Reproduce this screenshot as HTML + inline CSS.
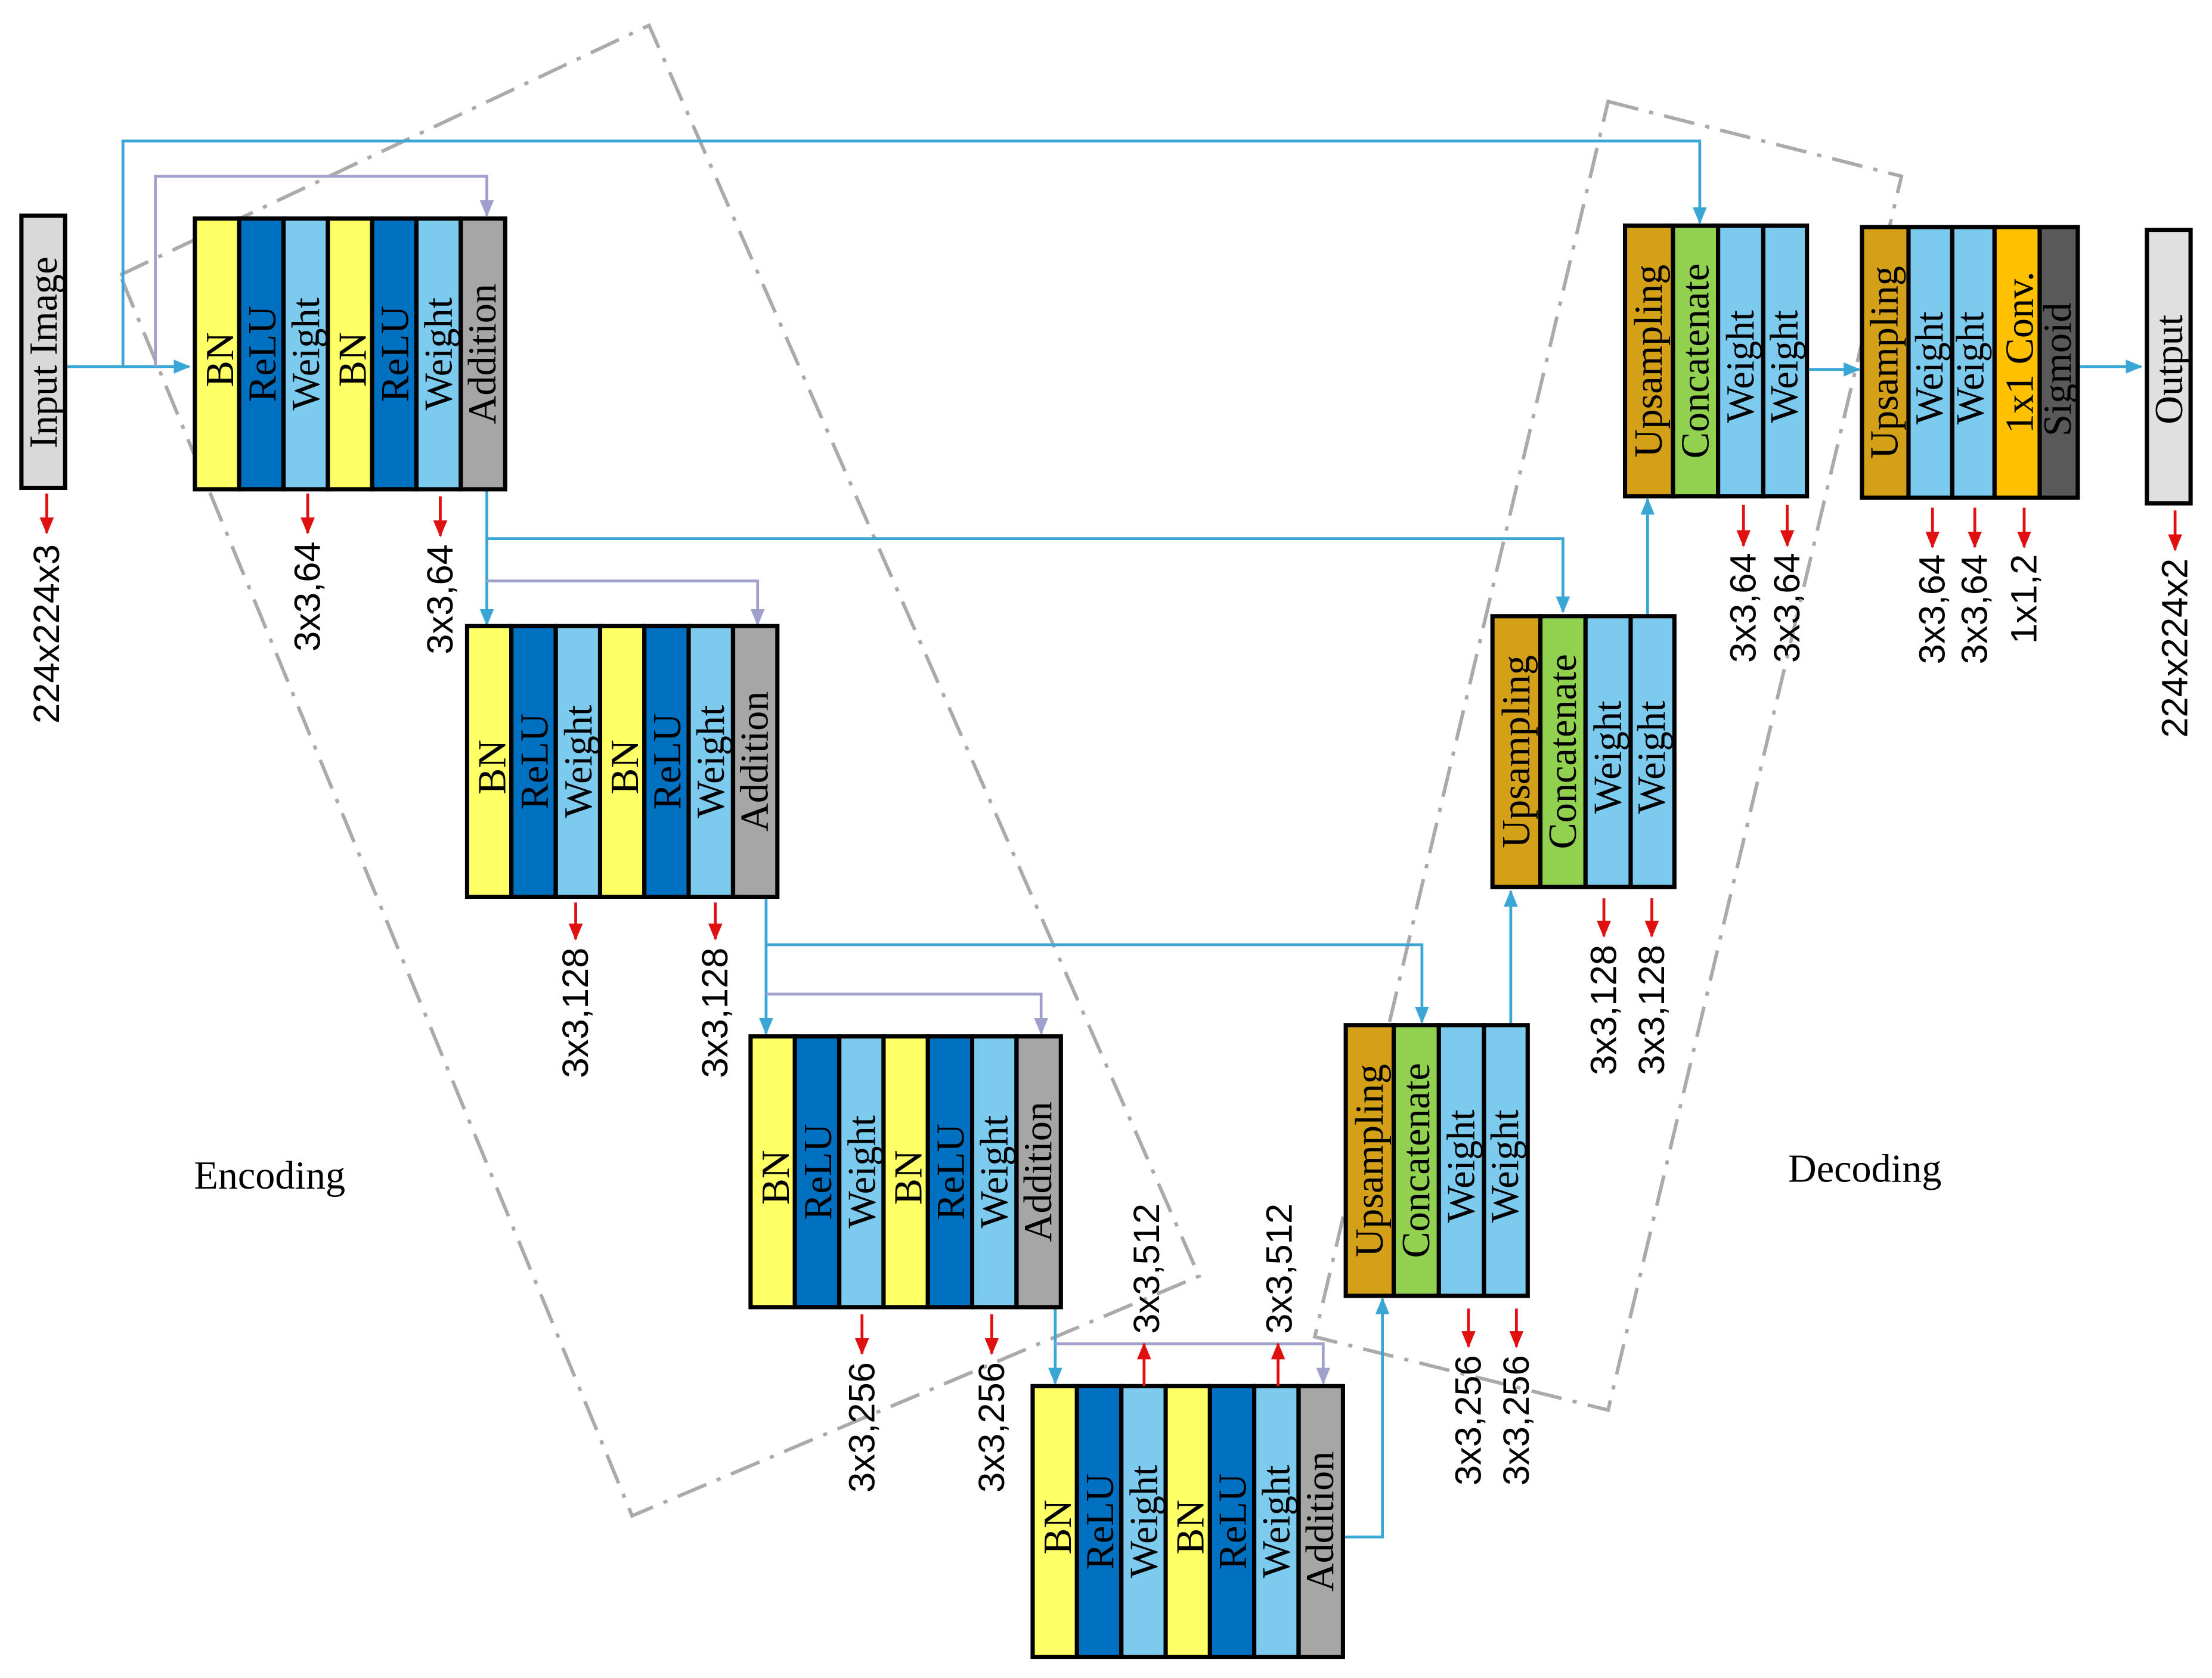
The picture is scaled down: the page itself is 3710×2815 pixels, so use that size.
<!DOCTYPE html>
<html><head><meta charset="utf-8"><style>html,body{margin:0;padding:0;background:#fff}svg{display:block}</style></head><body>
<svg width="3710" height="2815" viewBox="0 0 1568 1190" xmlns="http://www.w3.org/2000/svg">
<defs>
<marker id="ab" markerWidth="8" markerHeight="8" refX="7" refY="4" orient="auto" markerUnits="userSpaceOnUse"><path d="M0,0 L8,4 L0,8z" fill="#3aa6d6"/></marker>
<marker id="ag" markerWidth="12" markerHeight="10" refX="11" refY="5" orient="auto" markerUnits="userSpaceOnUse"><path d="M0,0 L12,5 L0,10z" fill="#a0a0cc"/></marker>
<marker id="ar" markerWidth="12" markerHeight="10" refX="11" refY="5" orient="auto" markerUnits="userSpaceOnUse"><path d="M0,0 L12,5 L0,10z" fill="#e01010"/></marker>
<marker id="ab2" markerWidth="12" markerHeight="10" refX="11" refY="5" orient="auto" markerUnits="userSpaceOnUse"><path d="M0,0 L12,5 L0,10z" fill="#3aa6d6"/></marker>
<g id="enc">
<g stroke="#000" stroke-width="3">
<rect x="0" y="0" width="31.4" height="192" fill="#ffff66"/>
<rect x="31.4" y="0" width="31.4" height="192" fill="#0070c0"/>
<rect x="62.9" y="0" width="31.4" height="192" fill="#7ccbee"/>
<rect x="94.3" y="0" width="31.4" height="192" fill="#ffff66"/>
<rect x="125.7" y="0" width="31.4" height="192" fill="#0070c0"/>
<rect x="157.1" y="0" width="31.4" height="192" fill="#7ccbee"/>
<rect x="188.6" y="0" width="31.4" height="192" fill="#a6a6a6"/>
</g>
<g font-family="Liberation Serif, serif" font-size="28" text-anchor="middle" fill="#000">
<text transform="translate(18,100) rotate(-90)" dominant-baseline="central">BN</text>
<text transform="translate(48,96) rotate(-90)" dominant-baseline="central">ReLU</text>
<text transform="translate(79,96) rotate(-90)" dominant-baseline="central">Weight</text>
<text transform="translate(112,100) rotate(-90)" dominant-baseline="central">BN</text>
<text transform="translate(142,96) rotate(-90)" dominant-baseline="central">ReLU</text>
<text transform="translate(173,96) rotate(-90)" dominant-baseline="central">Weight</text>
<text transform="translate(204,96) rotate(-90)" dominant-baseline="central">Addition</text>
</g>
</g>
<g id="dec">
<g stroke="#000" stroke-width="3">
<rect x="0" y="0" width="34" height="192" fill="#d4a017"/>
<rect x="34" y="0" width="32" height="192" fill="#92d050"/>
<rect x="66" y="0" width="32" height="192" fill="#7ccbee"/>
<rect x="98" y="0" width="31" height="192" fill="#7ccbee"/>
</g>
<g font-family="Liberation Serif, serif" font-size="28" text-anchor="middle" fill="#000">
<text transform="translate(17,96) rotate(-90)" dominant-baseline="central">Upsampling</text>
<text transform="translate(50,96) rotate(-90)" dominant-baseline="central">Concatenate</text>
<text transform="translate(82,100) rotate(-90)" dominant-baseline="central">Weight</text>
<text transform="translate(113,100) rotate(-90)" dominant-baseline="central">Weight</text>
</g>
</g>
</defs>

<!-- dash-dot regions -->
<g fill="none" stroke="#aaa" stroke-width="2.5" stroke-dasharray="22,8,3,8">
<polygon points="85,195 460,18 850,905 448,1075"/>
<polygon points="1140,72 1348,125 1140,1000 932,948"/>
</g>

<!-- blue skip connections -->
<g fill="none" stroke="#3aa6d6" stroke-width="2">
<path d="M46,260 H134" marker-end="url(#ab2)"/>
<path d="M87,260 V100 H1205 V158" marker-end="url(#ab2)"/>
<path d="M345,347 V443" marker-end="url(#ab2)"/>
<path d="M345,382 H1108 V434" marker-end="url(#ab2)"/>
<path d="M543,635 V733" marker-end="url(#ab2)"/>
<path d="M543,670 H1008 V725" marker-end="url(#ab2)"/>
<path d="M748,926 V981" marker-end="url(#ab2)"/>
<path d="M951,1090 H980 V921" marker-end="url(#ab2)"/>
<path d="M1071,727 V632" marker-end="url(#ab2)"/>
<path d="M1168,436 V354" marker-end="url(#ab2)"/>
<path d="M1280,262 H1318" marker-end="url(#ab2)"/>
<path d="M1473,260 H1518" marker-end="url(#ab2)"/>
</g>
<!-- gray residual -->
<g fill="none" stroke="#a0a0cc" stroke-width="2">
<path d="M110,260 V125 H345 V153" marker-end="url(#ag)"/>
<path d="M345,412 H537 V443" marker-end="url(#ag)"/>
<path d="M543,705 H738 V733" marker-end="url(#ag)"/>
<path d="M748,953 H938 V981" marker-end="url(#ag)"/>
</g>

<!-- input -->
<rect x="15" y="153" width="31" height="193" fill="#d9d9d9" stroke="#000" stroke-width="3"/>
<text transform="translate(31,250) rotate(-90)" dominant-baseline="central" text-anchor="middle" font-family="Liberation Serif, serif" font-size="28">Input  Image</text>

<use href="#enc" transform="translate(138,155)"/>
<use href="#enc" transform="translate(331,444)"/>
<use href="#enc" transform="translate(532,735)"/>
<use href="#enc" transform="translate(732,983)"/>

<use href="#dec" transform="translate(954,727)"/>
<use href="#dec" transform="translate(1058,437)"/>
<use href="#dec" transform="translate(1152,160)"/>

<!-- final block -->
<g stroke="#000" stroke-width="3">
<rect x="1320" y="161" width="33" height="192" fill="#d4a017"/>
<rect x="1353" y="161" width="31" height="192" fill="#7ccbee"/>
<rect x="1384" y="161" width="30" height="192" fill="#7ccbee"/>
<rect x="1414" y="161" width="32" height="192" fill="#ffc000"/>
<rect x="1446" y="161" width="27" height="192" fill="#595959"/>
<rect x="1522" y="163" width="31" height="194" fill="#e0e0e0"/>
</g>
<g font-family="Liberation Serif, serif" font-size="28" text-anchor="middle" fill="#000">
<text transform="translate(1336,257) rotate(-90)" dominant-baseline="central">Upsampling</text>
<text transform="translate(1368,261) rotate(-90)" dominant-baseline="central">Weight</text>
<text transform="translate(1397,261) rotate(-90)" dominant-baseline="central">Weight</text>
<text transform="translate(1432,250) rotate(-90)" dominant-baseline="central">1x1 Conv.</text>
<text transform="translate(1459,262) rotate(-90)" dominant-baseline="central">Sigmoid</text>
<text transform="translate(1538,262) rotate(-90)" dominant-baseline="central">Output</text>
</g>

<!-- red arrows -->
<g stroke="#e01010" stroke-width="2" marker-end="url(#ar)">
<path d="M33,350 V378"/>
<path d="M218,350 V378"/><path d="M312,352 V380"/>
<path d="M408,640 V666"/><path d="M507,640 V666"/>
<path d="M611,932 V960"/><path d="M703,932 V960"/>
<path d="M811,983 V953"/><path d="M906,983 V953"/>
<path d="M1041,928 V955"/><path d="M1075,928 V955"/>
<path d="M1137,637 V664"/><path d="M1171,637 V664"/>
<path d="M1236,358 V387"/><path d="M1267,358 V387"/>
<path d="M1370,360 V388"/><path d="M1400,360 V388"/><path d="M1435,360 V388"/>
<path d="M1542,362 V390"/>
</g>
<g font-family="Liberation Sans, sans-serif" font-size="26" fill="#000" text-anchor="end">
<text transform="translate(33,386) rotate(-90)" dominant-baseline="central">224x224x3</text>
<text transform="translate(218,384) rotate(-90)" dominant-baseline="central">3x3,64</text>
<text transform="translate(312,386) rotate(-90)" dominant-baseline="central">3x3,64</text>
<text transform="translate(408,672) rotate(-90)" dominant-baseline="central">3x3,128</text>
<text transform="translate(507,672) rotate(-90)" dominant-baseline="central">3x3,128</text>
<text transform="translate(611,966) rotate(-90)" dominant-baseline="central">3x3,256</text>
<text transform="translate(703,966) rotate(-90)" dominant-baseline="central">3x3,256</text>
<text transform="translate(1041,961) rotate(-90)" dominant-baseline="central">3x3,256</text>
<text transform="translate(1075,961) rotate(-90)" dominant-baseline="central">3x3,256</text>
<text transform="translate(1137,670) rotate(-90)" dominant-baseline="central">3x3,128</text>
<text transform="translate(1171,670) rotate(-90)" dominant-baseline="central">3x3,128</text>
<text transform="translate(1236,392) rotate(-90)" dominant-baseline="central">3x3,64</text>
<text transform="translate(1267,392) rotate(-90)" dominant-baseline="central">3x3,64</text>
<text transform="translate(1370,393) rotate(-90)" dominant-baseline="central">3x3,64</text>
<text transform="translate(1400,393) rotate(-90)" dominant-baseline="central">3x3,64</text>
<text transform="translate(1435,393) rotate(-90)" dominant-baseline="central">1x1,2</text>
<text transform="translate(1542,396) rotate(-90)" dominant-baseline="central">224x224x2</text>
</g>
<g font-family="Liberation Sans, sans-serif" font-size="26" fill="#000" text-anchor="start">
<text transform="translate(813,946) rotate(-90)" dominant-baseline="central">3x3,512</text>
<text transform="translate(907,946) rotate(-90)" dominant-baseline="central">3x3,512</text>
</g>

<g font-family="Liberation Serif, serif" font-size="28" fill="#000" text-anchor="middle">
<text x="191" y="843">Encoding</text>
<text x="1322" y="838">Decoding</text>
</g>
</svg>
</body></html>
